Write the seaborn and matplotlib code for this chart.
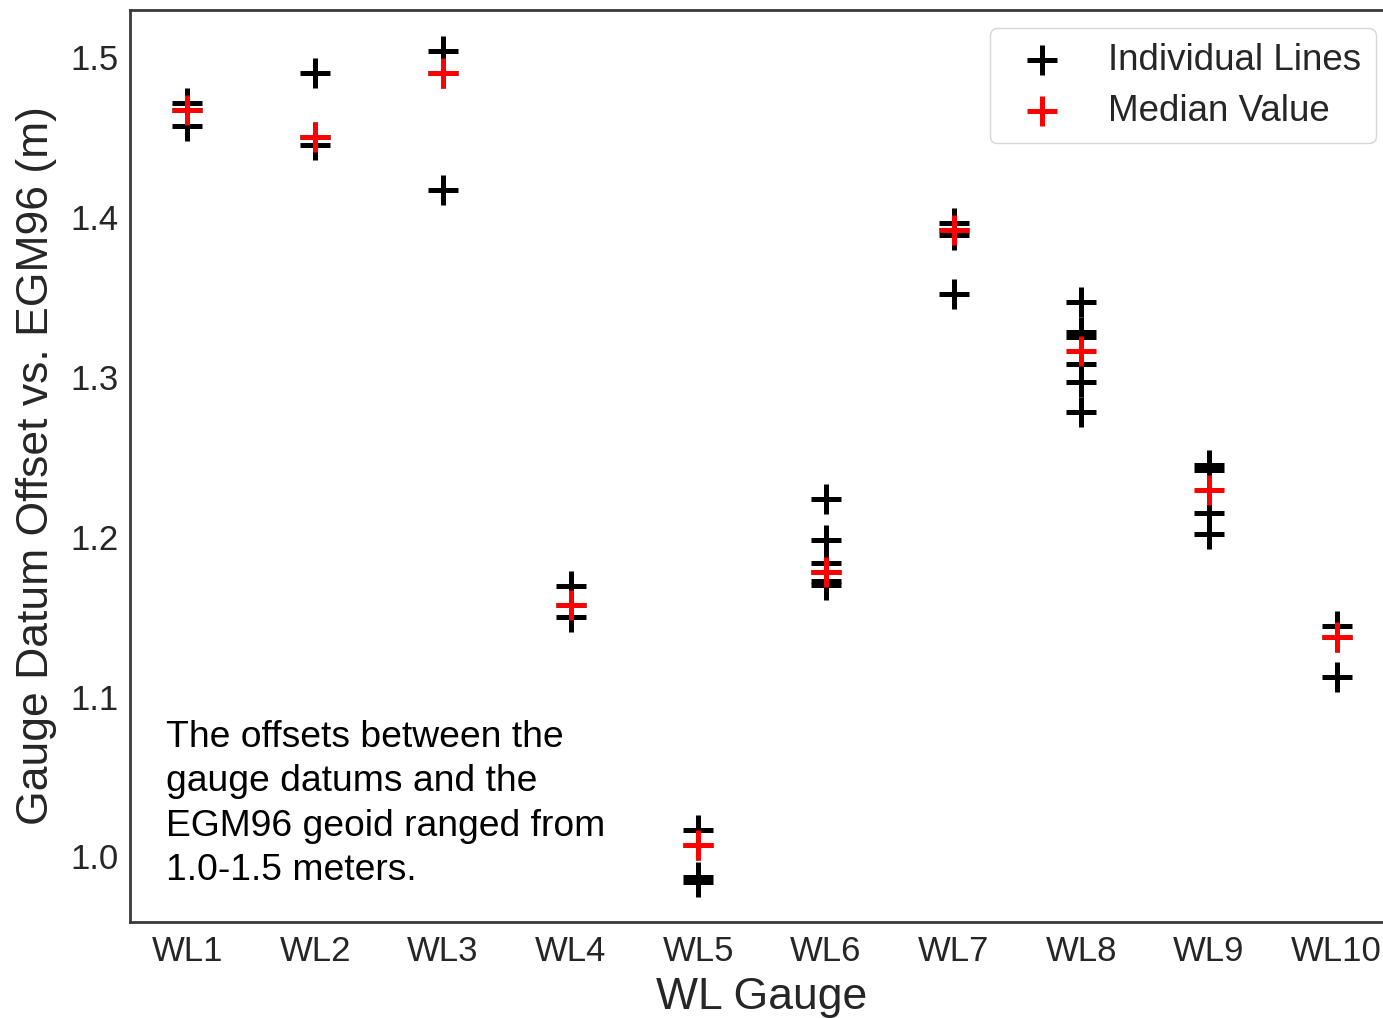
import matplotlib
matplotlib.use("Agg")
import matplotlib.pyplot as plt
import seaborn as sns
import pandas as pd

gauges = ["WL1", "WL2", "WL3", "WL4", "WL5", "WL6", "WL7", "WL8", "WL9", "WL10"]
wl1 = [1.471, 1.467, 1.457]
wl2 = [1.490, 1.450, 1.445]
wl3 = [1.504, 1.490, 1.417]
wl4 = [1.169, 1.1575, 1.150]
wl5 = [1.0165, 1.007, 0.987, 0.984]
wl6 = [1.2235, 1.198, 1.1835, 1.178, 1.172, 1.170]
wl7 = [1.396, 1.392, 1.389, 1.352]
wl8 = [1.347, 1.328, 1.325, 1.308, 1.297, 1.278]
wl9 = [1.245, 1.242, 1.215, 1.202]
wl10 = [1.144, 1.1373, 1.112]
individual = [wl1, wl2, wl3, wl4, wl5, wl6, wl7, wl8, wl9, wl10]
median_values = [1.467, 1.450, 1.490, 1.1575, 1.007, 1.178, 1.392, 1.316, 1.229, 1.1373]

note = ("The offsets between the\ngauge datums and the\n"
        "EGM96 geoid ranged from\n1.0-1.5 meters.")

sns.set_theme(style="white")
plt.rcParams["font.family"] = ["Liberation Sans", "DejaVu Sans"]

ind_df = pd.DataFrame(
    [(i + 1, v) for i, vals in enumerate(individual) for v in vals],
    columns=["pos", "offset"],
)
med_df = pd.DataFrame({"pos": range(1, len(gauges) + 1), "offset": median_values})

fig = plt.figure(figsize=(13.83, 10.18), dpi=100)
ax = fig.add_axes([0.0940, 0.0943, 0.9140, 0.8959])

sns.scatterplot(data=ind_df, x="pos", y="offset", marker="+", color="black",
                s=470, linewidth=3.6, label="Individual Lines", ax=ax, zorder=3)
sns.scatterplot(data=med_df, x="pos", y="offset", marker="+", color="red",
                s=470, linewidth=3.6, label="Median Value", ax=ax, zorder=4)

ax.set_xlim(0.55, 10.45)
ax.set_ylim(0.959, 1.5295)
ax.set_xticks(range(1, len(gauges) + 1))
ax.set_xticklabels(gauges)
ax.set_yticks([1.0, 1.1, 1.2, 1.3, 1.4, 1.5])
ax.tick_params(axis="x", labelsize=25, length=0, pad=9, colors="#262626")
ax.tick_params(axis="y", labelsize=25, length=0, pad=8, colors="#262626")
ax.set_xlabel("WL Gauge", fontsize=32, color="#262626", labelpad=7)
ax.set_ylabel("Gauge Datum Offset vs. EGM96 (m)", fontsize=32, color="#262626", labelpad=10)
for sp in ax.spines.values():
    sp.set_linewidth(2)
    sp.set_color("#3a3a3a")

ax.legend(loc="upper right", fontsize=26.5, frameon=True, labelspacing=0.42)

fig.text(166 / 1383, 138 / 1018, note, fontsize=26.8, color="black",
         va="baseline", ha="left", linespacing=1.35)

fig.savefig("out.png", dpi=100)
